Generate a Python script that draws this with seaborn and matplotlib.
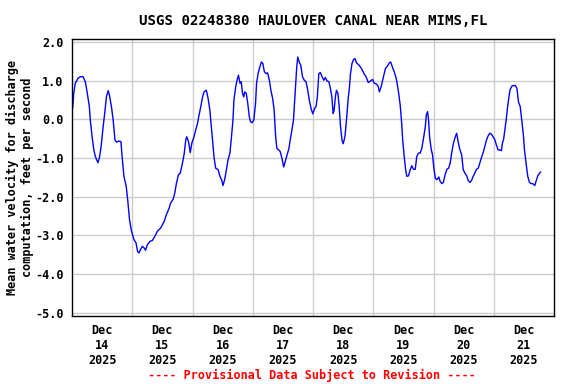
import matplotlib
matplotlib.use("Agg")
import matplotlib.pyplot as plt
import matplotlib.dates as mdates
import pandas as pd
import seaborn as sns

# hours since 2025-12-14 00:00 and velocity
hours = [
    0.0, 0.3, 0.7, 1.3, 2.4, 3.3, 4.4, 5.3, 6.0, 6.9, 7.3, 8.0, 8.7, 9.3, 10.3, 10.9,
    11.6, 12.4, 13.1, 13.7, 14.4, 14.9, 15.7, 16.4, 17.1, 17.7, 18.7, 19.5, 20.0, 20.7,
    21.6, 22.3, 22.9, 23.7, 24.7, 25.5, 26.1, 26.7, 27.3, 28.0, 28.7, 29.3, 30.0, 31.1,
    32.0, 33.0, 34.0, 35.3, 36.7, 37.6, 38.7, 39.3, 40.3, 40.9, 41.6, 42.4, 43.1, 44.0,
    44.7, 45.3, 45.7, 46.4, 47.1, 47.7, 48.4, 49.3, 50.0, 50.6, 51.3, 52.0, 52.6, 53.5,
    54.2, 54.9, 55.5, 56.0, 56.6, 57.2, 58.2, 58.9, 59.6, 60.1, 60.8, 61.5, 62.1, 62.9,
    63.4, 64.1, 64.5, 65.2, 65.8, 66.3, 66.9, 67.4, 67.9, 68.4, 68.8, 69.4, 70.0, 70.6,
    71.1, 71.7, 72.4, 73.1, 73.5, 74.1, 74.8, 75.4, 76.0, 76.6, 77.3, 77.9, 78.6, 79.2,
    79.9, 80.5, 81.1, 81.6, 82.3, 82.9, 83.6, 84.3, 84.9, 85.6, 86.4, 86.9, 87.6, 88.2,
    88.6, 89.1, 89.5, 89.9, 90.5, 91.1, 91.8, 92.5, 93.2, 93.9, 94.5, 95.2, 95.9, 96.6,
    97.2, 97.7, 98.3, 98.9, 99.6, 100.3, 100.9, 101.6, 102.3, 102.9, 103.5, 104.0, 104.4,
    104.9, 105.3, 105.9, 106.4, 106.9, 107.5, 108.0, 108.7, 109.3, 110.0, 110.5, 110.9,
    111.5, 112.1, 112.7, 113.3, 114.3, 115.3, 116.3, 117.1, 118.0, 118.9, 119.7, 120.4,
    121.3, 122.0, 122.4, 123.1, 123.7, 124.3, 124.8, 125.6, 126.4, 126.9, 127.6, 128.3,
    129.1, 129.6, 130.1, 130.7, 131.2, 131.7, 132.3, 132.8, 133.3, 134.0, 134.7, 135.3,
    136.0, 136.7, 137.3, 138.0, 138.7, 139.3, 140.0, 140.7, 141.1, 141.6, 142.0, 142.4,
    143.1, 143.6, 144.1, 144.7, 145.3, 146.1, 146.6, 147.3, 147.9, 148.6, 149.3, 150.0,
    150.6, 151.2, 151.9, 152.6, 153.2, 153.9, 154.5, 155.2, 155.8, 156.5, 157.2, 157.8,
    158.5, 159.1, 159.8, 160.4, 161.1, 161.8, 162.4, 163.1, 163.7, 164.4, 165.1, 165.7,
    166.4, 167.0, 167.7, 168.4, 169.0, 169.7, 170.3, 171.0, 171.4, 171.9, 172.4, 172.9,
    173.5, 174.0, 174.5, 175.2, 175.8, 176.6, 177.2, 177.8, 178.5, 179.1, 179.7, 180.2,
    180.9, 181.5, 182.2, 182.8, 183.5, 184.3, 184.8, 185.5, 186.2, 186.7,
]
velocity = [
    0.25, 0.30, 0.67, 0.93, 1.06, 1.10, 1.10, 0.97, 0.71, 0.33, -0.02, -0.45, -0.79, -0.96, -1.12, -1.00,
    -0.70, -0.19, 0.20, 0.58, 0.74, 0.63, 0.33, -0.02, -0.53, -0.59, -0.56, -0.58, -1.00, -1.48,
    -1.73, -2.16, -2.59, -2.89, -3.11, -3.19, -3.41, -3.45, -3.36, -3.28, -3.32, -3.38, -3.24, -3.15,
    -3.13, -3.02, -2.89, -2.81, -2.64, -2.46, -2.29, -2.16, -2.06, -1.91, -1.65, -1.43, -1.39, -1.13,
    -0.88, -0.53, -0.45, -0.58, -0.86, -0.62, -0.49, -0.27, -0.10, 0.11, 0.33, 0.58, 0.71, 0.75,
    0.54, 0.24, -0.19, -0.53, -1.00, -1.26, -1.30, -1.47, -1.56, -1.71, -1.56, -1.30, -1.06, -0.87,
    -0.53, -0.02, 0.50, 0.84, 1.03, 1.14, 0.93, 0.97, 0.67, 0.58, 0.71, 0.67, 0.41, 0.07,
    -0.06, -0.09, -0.02, 0.41, 0.93, 1.18, 1.35, 1.48, 1.44, 1.23, 1.18, 1.20, 1.01, 0.75,
    0.54, 0.24, -0.45, -0.75, -0.79, -0.83, -1.00, -1.23, -1.09, -0.92, -0.75, -0.53, -0.27, -0.02,
    0.41, 0.93, 1.35, 1.61, 1.48, 1.40, 1.10, 1.01, 0.97, 0.75, 0.50, 0.28, 0.14, 0.28,
    0.33, 0.58, 1.18, 1.21, 1.10, 1.01, 1.08, 0.99, 0.97, 0.80, 0.58, 0.15, 0.24,
    0.58, 0.75, 0.67, 0.33, -0.15, -0.53, -0.63, -0.45, -0.02, 0.54, 0.84, 1.18,
    1.44, 1.54, 1.57, 1.46, 1.40, 1.31, 1.18, 1.10, 0.95, 0.99, 1.03, 0.93,
    0.91, 0.84, 0.71, 0.84, 1.01, 1.18, 1.31, 1.37, 1.46, 1.48, 1.35, 1.23,
    1.06, 0.88, 0.67, 0.37, -0.02, -0.53, -0.96, -1.26, -1.47, -1.46, -1.30, -1.20,
    -1.29, -1.29, -0.96, -0.87, -0.87, -0.75, -0.49, -0.19, 0.11, 0.20, -0.02, -0.45,
    -0.79, -0.92, -1.26, -1.52, -1.56, -1.49, -1.60, -1.66, -1.63, -1.43, -1.29, -1.26,
    -1.13, -0.87, -0.62, -0.46, -0.36, -0.62, -0.79, -0.92, -1.30, -1.39, -1.46, -1.58,
    -1.63, -1.58, -1.47, -1.39, -1.29, -1.26, -1.13, -0.98, -0.87, -0.70, -0.53, -0.43,
    -0.36, -0.38, -0.45, -0.53, -0.66, -0.79, -0.79, -0.81, -0.62, -0.51, -0.27, -0.02,
    0.33, 0.58, 0.77, 0.86, 0.87, 0.87, 0.80, 0.45, 0.33, -0.02, -0.36, -0.79,
    -1.17, -1.47, -1.63, -1.66, -1.66, -1.71, -1.60, -1.46, -1.39, -1.36,
]
day_labels = ["Dec\n14\n2025", "Dec\n15\n2025", "Dec\n16\n2025", "Dec\n17\n2025",
              "Dec\n18\n2025", "Dec\n19\n2025", "Dec\n20\n2025", "Dec\n21\n2025"]
y_ticks = [2.0, 1.0, 0.0, -1.0, -2.0, -3.0, -4.0, -5.0]

sns.set_style("white")
plt.rcParams["font.family"] = ["DejaVu Sans Mono"]
plt.rcParams["font.weight"] = "bold"
plt.rcParams["font.size"] = 8.5
plt.rcParams["text.color"] = "black"
plt.rcParams["axes.labelcolor"] = "black"
plt.rcParams["xtick.color"] = "black"
plt.rcParams["ytick.color"] = "black"
plt.rcParams["axes.labelweight"] = "bold"

start = pd.Timestamp("2025-12-14")
df = pd.DataFrame({"time": start + pd.to_timedelta(hours, unit="h"), "velocity": velocity})

fig = plt.figure(figsize=(5.76, 3.84), dpi=100)
ax = fig.add_axes([0.125, 0.177, 0.837, 0.721])
sns.lineplot(data=df, x="time", y="velocity", color="#0000ff", linewidth=1, ax=ax)

midnights = pd.date_range(start, periods=9, freq="D")
noons = midnights[:-1] + pd.Timedelta(hours=12)
ax.set_xlim(mdates.date2num(midnights[0]), mdates.date2num(midnights[-1]))
ax.set_ylim(-5.08, 2.07)
ax.set_xticks(mdates.date2num(noons))
ax.set_xticklabels(day_labels, fontweight="bold")
ax.set_xticks(mdates.date2num(midnights[1:-1]), minor=True)
ax.set_yticks(y_ticks)
ax.set_yticklabels([f"{v:.1f}" for v in y_ticks], fontweight="bold")
ax.grid(which="minor", axis="x", color="#cccccc", linewidth=1)
ax.grid(which="major", axis="y", color="#cccccc", linewidth=1)
ax.tick_params(which="both", length=0)
ax.tick_params(axis="x", pad=6)
ax.tick_params(axis="y", pad=6)
for s in ax.spines.values():
    s.set_color("black")
    s.set_linewidth(1)

ax.set_xlabel("")
ax.set_ylabel("Mean water velocity for discharge\ncomputation, feet per second",
              labelpad=1, fontweight="bold", color="black")
ax.set_title("USGS 02248380 HAULOVER CANAL NEAR MIMS,FL", pad=10,
             fontweight="bold", color="black")
fig.text(0.542, 0.023, "---- Provisional Data Subject to Revision ----",
         color="red", ha="center", va="center", fontweight="bold")

fig.savefig("out.png", dpi=100)
